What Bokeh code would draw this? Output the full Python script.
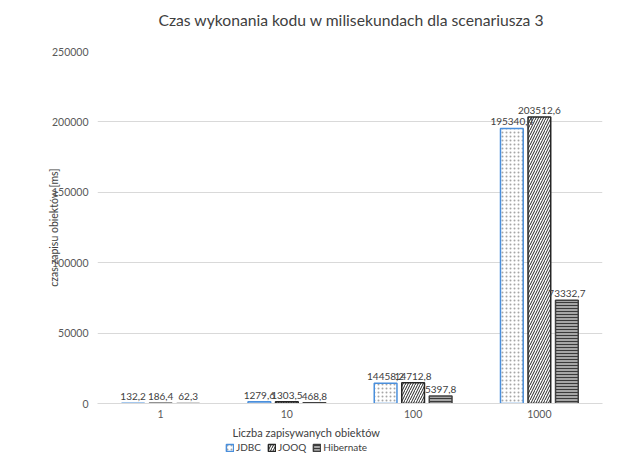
from bokeh.plotting import figure
from bokeh.layouts import column
from bokeh.models import (ColumnDataSource, FactorRange, Range1d, Legend,
                          LegendItem, FixedTicker, NumeralTickFormatter, Title)
from bokeh.transform import dodge
from bokeh.core.properties import value
from bokeh.embed import file_html
from bokeh.resources import INLINE

categories = ["1", "10", "100", "1000"]
jdbc = [132.2, 1279.6, 14458.2, 195340.4]
jooq = [186.4, 1303.5, 14712.8, 203512.6]
hibernate = [62.3, 468.8, 5397.8, 73332.7]
series_names = ["JDBC", "JOOQ", "Hibernate"]
y_ticks = [0, 50000, 100000, 150000, 200000, 250000]

title_text = "Czas wykonania kodu w milisekundach dla scenariusza 3"
x_title = "Liczba zapisywanych obiektów"
y_title = "czas zapisu obiektów [ms]"

FONT = "Lato"
WIDTH = 635


def fmt(v):
    return f"{v:.1f}".replace(".", ",")


src = ColumnDataSource(dict(
    cat=categories,
    jdbc=jdbc, jooq=jooq, hib=hibernate,
    jdbc_l=[fmt(v) for v in jdbc],
    jooq_l=[fmt(v) for v in jooq],
    hib_l=[fmt(v) for v in hibernate],
))

x_range = FactorRange(*categories, range_padding=0)

# ---- title strip ----
tf = figure(width=WIDTH, height=30, output_backend="svg", toolbar_location=None,
            x_range=Range1d(0, 1), y_range=Range1d(0, 1),
            min_border_left=0, min_border_right=0, min_border_top=29, min_border_bottom=0)
tf.axis.visible = False
tf.grid.visible = False
tf.outline_line_color = None
tf.title.text = title_text
tf.title.align = "left"
tf.title.offset = 61
tf.title.standoff = 2
tf.title.text_font = FONT
tf.title.text_font_size = "15.7px"
tf.title.text_font_style = "normal"
tf.title.text_color = "#404040"

# ---- main chart ----
p = figure(width=WIDTH, height=411, title=None,
           x_range=x_range, y_range=Range1d(0, 250000),
           output_backend="svg", toolbar_location=None,
           min_border_left=97, min_border_right=WIDTH - 602,
           min_border_top=21, min_border_bottom=38)
p.outline_line_color = None
p.xgrid.grid_line_color = None
p.ygrid.grid_line_color = "#d9d9d9"
p.ygrid.grid_line_width = 1

p.yaxis.ticker = FixedTicker(ticks=y_ticks)
p.yaxis.formatter = NumeralTickFormatter(format="0")
p.yaxis.axis_line_color = None
p.yaxis.major_tick_line_color = None
p.yaxis.minor_tick_line_color = None
p.yaxis.major_tick_out = 0
p.yaxis.major_tick_in = 0
p.yaxis.major_label_standoff = 9
p.yaxis.major_label_text_font = FONT
p.yaxis.major_label_text_font_size = "10.5px"
p.yaxis.major_label_text_color = "#595959"
p.yaxis.axis_label = y_title
p.yaxis.axis_label_standoff = -11
p.yaxis.axis_label_text_font = FONT
p.yaxis.axis_label_text_font_size = "10.5px"
p.yaxis.axis_label_text_font_style = "normal"
p.yaxis.axis_label_text_color = "#404040"

p.xaxis.axis_line_color = "#d9d9d9"
p.xaxis.major_tick_line_color = None
p.xaxis.minor_tick_line_color = None
p.xaxis.major_tick_out = 0
p.xaxis.major_tick_in = 0
p.xaxis.major_label_standoff = 6
p.xaxis.major_label_text_font = FONT
p.xaxis.major_label_text_font_size = "10.5px"
p.xaxis.major_label_text_color = "#595959"

W = 0.18
OFF = 0.218
styles = [
    dict(field="jdbc", lab="jdbc_l", off=-OFF, fill_color="white", hatch_pattern="dot",
         hatch_color="#a6a6a6", hatch_scale=4, hatch_weight=0.6, line_color="#4a8fdc"),
    dict(field="jooq", lab="jooq_l", off=0.0, fill_color="white", hatch_pattern="right_diagonal_line",
         hatch_color="#262626", hatch_scale=5, hatch_weight=1.0, line_color="#262626"),
    dict(field="hib", lab="hib_l", off=OFF, fill_color="#a6a6a6", hatch_pattern="horizontal_line",
         hatch_color="#3a3a3a", hatch_scale=3, hatch_weight=1.0, line_color="#404040"),
]


def bar_kw(s):
    return dict(fill_color=s["fill_color"], hatch_pattern=s["hatch_pattern"],
                hatch_color=s["hatch_color"], hatch_scale=s["hatch_scale"],
                hatch_weight=s["hatch_weight"], line_color=s["line_color"], line_width=1.5)


for s in styles:
    p.vbar(x=dodge("cat", s["off"], range=x_range), top=s["field"], width=W, source=src, **bar_kw(s))
for s in styles:
    p.text(x=dodge("cat", s["off"], range=x_range), y=s["field"], text=s["lab"], source=src,
           text_align="center", text_baseline="bottom", y_offset=-3,
           text_font=value(FONT), text_font_size="10px", text_color="#404040")

p.add_layout(Title(text=x_title, align="left", offset=135, standoff=6,
                   text_font=FONT, text_font_size="11px", text_font_style="normal",
                   text_color="#404040"), "below")

# ---- legend strip (same series, renderers hidden; only swatches show) ----
lg = figure(width=WIDTH, height=12, output_backend="svg", toolbar_location=None,
            x_range=x_range, y_range=Range1d(-1000, -999),
            min_border_left=0, min_border_right=0, min_border_top=0, min_border_bottom=0)
lg.axis.visible = False
lg.grid.visible = False
lg.outline_line_color = None
lrs = [lg.vbar(x=dodge("cat", s["off"], range=x_range), top=s["field"], width=W, source=src,
               visible=False, **bar_kw(s)) for s in styles]
legend = Legend(items=[LegendItem(label=n, renderers=[r]) for n, r in zip(series_names, lrs)],
                orientation="horizontal", location=(128, 0),
                glyph_width=9, glyph_height=9, label_height=10, label_standoff=2, spacing=6,
                padding=0, margin=0, border_line_color=None, background_fill_alpha=0,
                inactive_fill_alpha=0,
                label_text_font=FONT, label_text_font_size="10px", label_text_color="#404040")
lg.add_layout(legend, "center")

layout = column(tf, p, lg, spacing=0)
open("out.html", "w").write(file_html(layout, INLINE))
